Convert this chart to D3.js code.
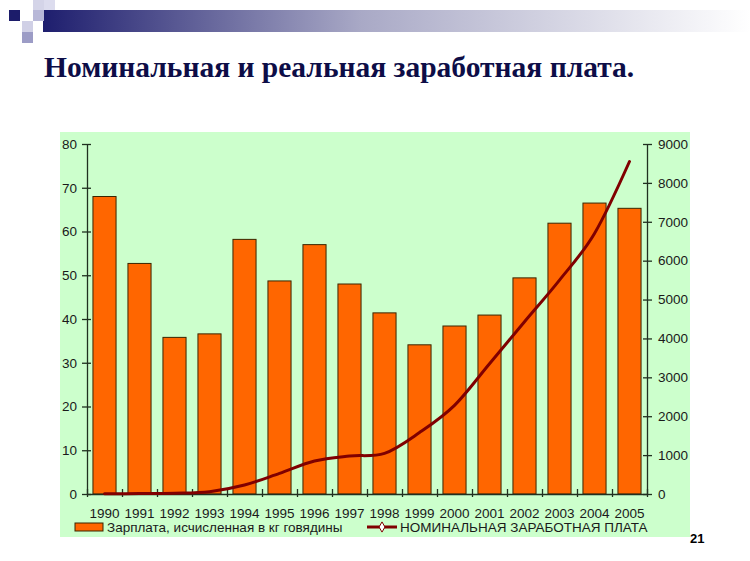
<!DOCTYPE html>
<html>
<head>
<meta charset="utf-8">
<script src="https://cdn.jsdelivr.net/npm/d3@7"></script>
<style>
  body { margin: 0; background: #fff; }
  svg { display: block; }
</style>
</head>
<body>
<div id="chart"></div>
<script>
// Data
const years = ["1990", "1991", "1992", "1993", "1994", "1995", "1996", "1997",
               "1998", "1999", "2000", "2001", "2002", "2003", "2004", "2005"];
const beefWage = [68, 52.7, 35.8, 36.6, 58.2, 48.7, 57, 48, 41.4, 34.1, 38.4, 40.9, 49.4, 61.9, 66.5, 65.3];
const nominalWage = [5, 10, 20, 60, 231, 531, 849, 977, 1046, 1580, 2280, 3350, 4430, 5500, 6700, 8550];
const leftTicks = [0, 10, 20, 30, 40, 50, 60, 70, 80];
const rightTicks = [0, 1000, 2000, 3000, 4000, 5000, 6000, 7000, 8000, 9000];

const titleText = "Номинальная и реальная заработная плата.";
const barLegend = "Зарплата, исчисленная в кг говядины";
const lineLegend = "НОМИНАЛЬНАЯ ЗАРАБОТНАЯ ПЛАТА";
const slideNo = "21";

const width = 750, height = 561;
const plot = { left: 87, right: 647, top: 144, bottom: 494 };
const axisColor = "#203020";
const textColor = "#1a1a1a";
const font = "'Liberation Sans', Arial, sans-serif";
const fontSize = "13.5px";

const svg = d3.select("#chart").append("svg")
    .attr("width", width)
    .attr("height", height);

// header decoration (gradient band + squares)
const defs = svg.append("defs");
const grad = defs.append("linearGradient").attr("id", "band").attr("x1", 0).attr("x2", 1);
grad.append("stop").attr("offset", 0).attr("stop-color", "#1e1e6e");
grad.append("stop").attr("offset", 0.45).attr("stop-color", "#a9a9c6");
grad.append("stop").attr("offset", 1).attr("stop-color", "#ffffff");

svg.append("rect").attr("x", 43).attr("y", 10).attr("width", 707).attr("height", 22)
    .attr("fill", "url(#band)");

const squares = [
    [33, 0, "#d4d4e8"], [44, 0, "#dcdcee"], [33, 10, "#b8b8d8"],
    [22, 21, "#d0d0e6"], [22, 32, "#9c9cc6"], [9, 10, "#1c1c6a"]
];
svg.append("g").selectAll("rect").data(squares).join("rect")
    .attr("x", d => d[0]).attr("y", d => d[1])
    .attr("width", 11).attr("height", d => d[1] === 0 ? 10 : 11)
    .attr("fill", d => d[2]);

// title
svg.append("text")
    .attr("x", 44).attr("y", 77)
    .style("font-family", "'Liberation Serif', 'Times New Roman', serif")
    .style("font-weight", "bold")
    .style("font-size", "29.5px")
    .attr("fill", "#0d0d47")
    .text(titleText);

// chart background
svg.append("rect")
    .attr("x", 60).attr("y", 132).attr("width", 630).attr("height", 405)
    .attr("fill", "#ccffcc");

// scales
const x = d3.scaleBand().domain(years).range([plot.left, plot.right])
    .paddingInner(0.34).paddingOuter(0.17);
const xEdge = d3.scaleLinear().domain([0, years.length]).range([plot.left, plot.right]);
const yL = d3.scaleLinear().domain([0, 80]).range([plot.bottom, plot.top]);
const yR = d3.scaleLinear().domain([0, 9000]).range([plot.bottom, plot.top]);

// bars
svg.append("g").selectAll("rect")
    .data(beefWage)
    .join("rect")
    .attr("x", (d, i) => x(years[i]))
    .attr("y", d => yL(d))
    .attr("width", x.bandwidth())
    .attr("height", d => yL(0) - yL(d))
    .attr("fill", "#ff6600")
    .attr("stroke", "#3a2600")
    .attr("stroke-width", 1);

// axes
function styleAxis(g) {
    g.selectAll("path, line").attr("stroke", axisColor).attr("stroke-width", 1.3);
    g.selectAll("text").attr("fill", textColor)
        .style("font-family", font).style("font-size", fontSize);
}

svg.append("g")
    .attr("transform", `translate(${plot.left},0)`)
    .call(d3.axisLeft(yL).tickValues(leftTicks).tickSizeInner(5).tickSizeOuter(0).tickPadding(5))
    .call(g => g.selectAll(".tick line").attr("x1", 4))
    .call(styleAxis);

svg.append("g")
    .attr("transform", `translate(${plot.right},0)`)
    .call(d3.axisRight(yR).tickValues(rightTicks).tickFormat(d3.format("d"))
        .tickSizeInner(5).tickSizeOuter(0).tickPadding(6))
    .call(g => g.selectAll(".tick line").attr("x1", -4))
    .call(styleAxis);

svg.append("g")
    .attr("transform", `translate(0,${plot.bottom})`)
    .call(d3.axisBottom(xEdge).ticks(years.length).tickFormat("").tickSizeInner(3).tickSizeOuter(0))
    .call(g => g.selectAll(".tick line").attr("y1", -5))
    .call(styleAxis);

svg.append("g")
    .attr("transform", `translate(0,${plot.bottom})`)
    .call(d3.axisBottom(x).tickSize(0))
    .call(g => g.select(".domain").remove())
    .call(g => g.selectAll("text").attr("dy", null).attr("y", 24))
    .call(styleAxis);

// nominal wage line (smoothed like the spreadsheet original)
const line = d3.line()
    .x((d, i) => x(years[i]) + x.bandwidth() / 2)
    .y(d => yR(d))
    .curve(d3.curveCatmullRom.alpha(0));

svg.append("path")
    .datum(nominalWage)
    .attr("d", line)
    .attr("fill", "none")
    .attr("stroke", "#800000")
    .attr("stroke-width", 3)
    .attr("stroke-linecap", "round");

// legend
const legend = svg.append("g")
    .style("font-family", font).style("font-size", fontSize).attr("fill", textColor);

legend.append("rect")
    .attr("x", 75).attr("y", 523).attr("width", 28).attr("height", 8)
    .attr("fill", "#ff6600").attr("stroke", "#3a2600");
legend.append("text").attr("x", 107).attr("y", 532).text(barLegend);

legend.append("line")
    .attr("x1", 367).attr("x2", 397).attr("y1", 527).attr("y2", 527)
    .attr("stroke", "#800000").attr("stroke-width", 3);
legend.append("path")
    .attr("d", d3.symbol(d3.symbolDiamond, 30)())
    .attr("transform", "translate(382,527)")
    .attr("fill", "#fff").attr("stroke", "#800000").attr("stroke-width", 1);
legend.append("text").attr("x", 400).attr("y", 532).text(lineLegend);

// slide number
svg.append("text")
    .attr("x", 690).attr("y", 543)
    .style("font-family", font).style("font-weight", "bold").style("font-size", "13px")
    .attr("fill", "#000")
    .text(slideNo);
</script>
</body>
</html>
